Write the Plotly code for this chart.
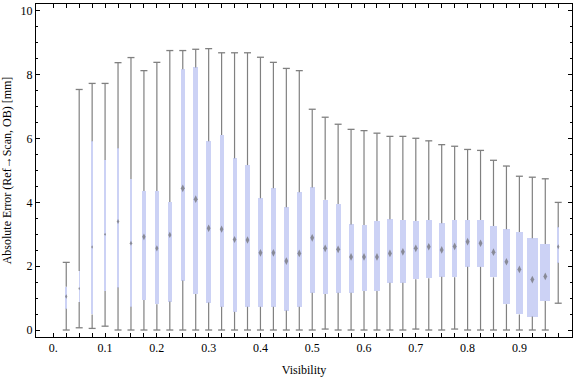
import plotly.graph_objects as go

# Category positions (visibility bins)
positions = [0.025, 0.05, 0.075, 0.1, 0.125, 0.15, 0.175, 0.2, 0.225, 0.25,
             0.275, 0.3, 0.325, 0.35, 0.375, 0.4, 0.425, 0.45, 0.475, 0.5,
             0.525, 0.55, 0.575, 0.6, 0.625, 0.65, 0.675, 0.7, 0.725, 0.75,
             0.775, 0.8, 0.825, 0.85, 0.875, 0.9, 0.925, 0.95, 0.975]

mins = [0.00, 0.07, 0.05, 0.12, 0.00, 0.00, 0.00, 0.00, 0.00, 0.00,
        0.00, 0.00, 0.00, 0.00, 0.00, 0.00, 0.00, 0.00, 0.00, 0.00,
        0.03, 0.00, 0.00, 0.00, 0.00, 0.00, 0.00, 0.03, 0.00, 0.00,
        0.03, 0.00, 0.00, 0.00, 0.00, 0.00, 0.00, 0.00, 0.84]
q1s = [0.67, 0.88, 0.49, 1.22, 1.33, 0.73, 0.94, 0.81, 0.89, 1.55,
       1.13, 0.86, 0.73, 0.57, 0.73, 0.73, 0.73, 0.61, 0.73, 1.17,
       1.13, 1.17, 1.17, 1.22, 1.22, 1.48, 1.48, 1.59, 1.62, 1.67,
       1.65, 1.98, 1.98, 1.65, 0.81, 0.49, 0.42, 0.91, 2.11]
medians = [1.05, 1.30, 2.60, 3.00, 3.40, 2.72, 2.92, 2.56, 2.98, 4.44,
           4.10, 3.19, 3.16, 2.84, 2.82, 2.42, 2.42, 2.16, 2.40, 2.89,
           2.56, 2.53, 2.29, 2.29, 2.29, 2.40, 2.45, 2.56, 2.61, 2.51,
           2.62, 2.77, 2.72, 2.44, 2.14, 1.90, 1.58, 1.68, 2.61]
q3s = [1.36, 1.85, 5.92, 5.33, 5.70, 4.73, 4.36, 4.36, 4.01, 8.17,
       8.23, 5.92, 6.11, 5.38, 5.17, 4.13, 4.44, 3.85, 4.32, 4.47,
       4.08, 3.95, 3.31, 3.29, 3.42, 3.47, 3.45, 3.42, 3.45, 3.35,
       3.45, 3.45, 3.45, 3.26, 3.16, 3.07, 2.88, 2.70, 3.22]
maxs = [2.12, 7.54, 7.73, 7.73, 8.38, 8.54, 8.13, 8.39, 8.76, 8.76,
        8.80, 8.82, 8.69, 8.69, 8.69, 8.55, 8.39, 8.20, 8.13, 6.92,
        6.67, 6.45, 6.29, 6.25, 6.17, 6.07, 6.07, 6.01, 5.93, 5.81,
        5.76, 5.66, 5.63, 5.32, 5.14, 4.82, 4.79, 4.74, 4.00]

x_tick_vals = [0.0, 0.025, 0.05, 0.075, 0.1, 0.125, 0.15, 0.175, 0.2, 0.225,
               0.25, 0.275, 0.3, 0.325, 0.35, 0.375, 0.4, 0.425, 0.45, 0.475,
               0.5, 0.525, 0.55, 0.575, 0.6, 0.625, 0.65, 0.675, 0.7, 0.725,
               0.75, 0.775, 0.8, 0.825, 0.85, 0.875, 0.9, 0.925, 0.95, 0.975]
x_tick_labels = {0.0: "0.", 0.1: "0.1", 0.2: "0.2", 0.3: "0.3", 0.4: "0.4",
                 0.5: "0.5", 0.6: "0.6", 0.7: "0.7", 0.8: "0.8", 0.9: "0.9"}
y_tick_vals = [0, 2, 4, 6, 8, 10]

# Style: box widths (in pixels)
box_px = [2.3, 1.3, 1.5, 1.3, 2.5, 2.5, 3.7, 3.5, 3.5, 4.5,
          4.5, 4.8, 4.2, 4.0, 4.3, 5.0, 5.0, 5.3, 5.3, 5.3,
          5.0, 5.0, 5.0, 5.0, 5.5, 6.3, 6.0, 6.5, 6.2, 6.0,
          5.2, 5.0, 7.0, 7.0, 7.0, 7.2, 10.8, 10.0, 2.5]

X_RANGE = [-0.0334, 1.0016]
PLOT_W = 576 - 36 - 4
px_per_unit = PLOT_W / (X_RANGE[1] - X_RANGE[0])
box_w = [p / px_per_unit for p in box_px]

BOX_COLOR = "rgb(204,210,245)"
WHISKER = "rgb(128,128,128)"
MED = "rgb(100,100,100)"
FONT = "Liberation Serif"

fig = go.Figure()

# Boxes (q1..q3)
fig.add_trace(go.Bar(
    x=positions, y=[b - a for a, b in zip(q1s, q3s)], base=q1s, width=box_w,
    marker=dict(color=BOX_COLOR, line=dict(width=0)), hoverinfo="skip",
    showlegend=False))

# Whiskers: min->q1 and q3->max
wx, wy = [], []
for p, lo, a, b, hi in zip(positions, mins, q1s, q3s, maxs):
    wx += [p, p, None, p, p, None]
    wy += [lo, a, None, b, hi, None]
fig.add_trace(go.Scatter(x=wx, y=wy, mode="lines",
                         line=dict(color=WHISKER, width=1.2),
                         hoverinfo="skip", showlegend=False))
# Whisker caps
fig.add_trace(go.Scatter(
    x=positions + positions, y=mins + maxs, mode="markers",
    marker=dict(symbol="line-ew", size=5, line=dict(color=WHISKER, width=1.3)),
    hoverinfo="skip", showlegend=False))

# Medians
fig.add_trace(go.Scatter(
    x=positions, y=medians, mode="markers",
    marker=dict(symbol="diamond-tall", size=[min(5.5, w + 1.0) for w in box_px],
                color=MED, opacity=0.65, line=dict(width=0)),
    hoverinfo="skip", showlegend=False))

fig.update_layout(
    width=576, height=377,
    margin=dict(l=36, r=4, t=4, b=40, autoexpand=False),
    paper_bgcolor="white", plot_bgcolor="white",
    font=dict(family=FONT, size=12, color="black"),
    bargap=0,
    xaxis=dict(range=X_RANGE, tickvals=x_tick_vals, automargin=False,
               ticktext=[x_tick_labels.get(v, "") for v in x_tick_vals],
               ticks="inside", ticklen=4, tickcolor="black", tickwidth=1,
               showline=True, linecolor="black", linewidth=1, mirror="allticks",
               showgrid=False, zeroline=False,
               title=dict(text="Visibility", standoff=11,
                          font=dict(family=FONT, size=12))),
    yaxis=dict(range=[-0.219, 10.219], tickvals=y_tick_vals, automargin=False,
               ticks="inside", ticklen=4, tickcolor="black", tickwidth=1,
               minor=dict(dtick=0.5, ticks="inside", ticklen=2,
                          tickcolor="black", showgrid=False),
               showline=True, linecolor="black", linewidth=1, mirror="allticks",
               showgrid=False, zeroline=False,
               title=dict(text="Absolute Error (Ref\u2192Scan, OB) [mm]",
                          standoff=6, font=dict(family=FONT, size=12))),
)

fig.write_html("out.html",
               config={"displayModeBar": False, "staticPlot": True},
               post_script="document.body.style.margin='0px';"
                           "document.body.style.overflow='hidden';")
